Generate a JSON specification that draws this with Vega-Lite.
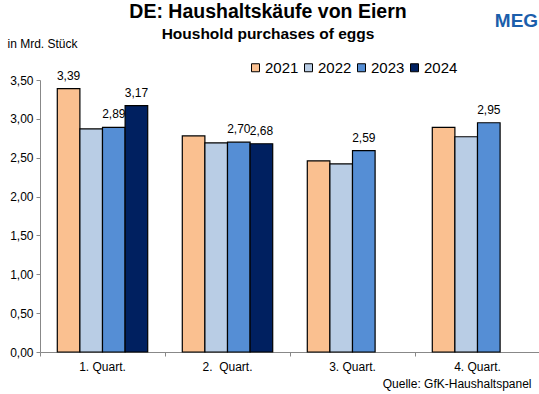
{
  "$schema": "https://vega.github.io/schema/vega-lite/v6.json",
  "width": 500,
  "height": 272,
  "autosize": {"type": "none"},
  "padding": {"left": 40, "top": 80, "right": 0, "bottom": 42},
  "background": "white",
  "title": {
    "text": "DE: Haushaltskäufe von Eiern",
    "subtitle": "Houshold purchases of eggs",
    "anchor": "middle",
    "frame": "group",
    "dx": -22,
    "offset": -32,
    "fontSize": 19.5,
    "subtitleFontSize": 15.5,
    "font": "Liberation Sans",
    "subtitleFont": "Liberation Sans",
    "fontWeight": "bold",
    "subtitleFontWeight": "bold",
    "color": "black",
    "subtitleColor": "black",
    "subtitlePadding": 4
  },
  "data": {
    "values": [
      {"quarter": "1. Quart.", "year": "2021", "value": 3.39},
      {"quarter": "1. Quart.", "year": "2022", "value": 2.87},
      {"quarter": "1. Quart.", "year": "2023", "value": 2.89},
      {"quarter": "1. Quart.", "year": "2024", "value": 3.17},
      {"quarter": "2.\u00a0 Quart.", "year": "2021", "value": 2.78},
      {"quarter": "2.\u00a0 Quart.", "year": "2022", "value": 2.69},
      {"quarter": "2.\u00a0 Quart.", "year": "2023", "value": 2.70},
      {"quarter": "2.\u00a0 Quart.", "year": "2024", "value": 2.68},
      {"quarter": "3. Quart.", "year": "2021", "value": 2.46},
      {"quarter": "3. Quart.", "year": "2022", "value": 2.42},
      {"quarter": "3. Quart.", "year": "2023", "value": 2.59},
      {"quarter": "4. Quart.", "year": "2021", "value": 2.89},
      {"quarter": "4. Quart.", "year": "2022", "value": 2.77},
      {"quarter": "4. Quart.", "year": "2023", "value": 2.95}
    ]
  },
  "resolve": {"axis": {"x": "independent"}},
  "encoding": {
    "xOffset": {
      "field": "year", "type": "nominal",
      "scale": {"paddingInner": 0, "paddingOuter": 0.765}
    },
    "y": {
      "field": "value", "type": "quantitative",
      "scale": {"domain": [0, 3.5], "nice": false},
      "axis": {
        "values": [0, 0.5, 1, 1.5, 2, 2.5, 3, 3.5],
        "labelOverlap": false,
        "format": ".2f",
        "grid": false,
        "tickSize": 4,
        "labelPadding": 3,
        "labelFontSize": 12,
        "labelFont": "Liberation Sans",
        "labelColor": "black",
        "domainColor": "#888888",
        "tickColor": "#888888",
        "title": "in Mrd. Stück",
        "titleFont": "Liberation Sans",
        "titleFontSize": 12,
        "titleFontWeight": "normal",
        "titleColor": "black",
        "titleAngle": 0,
        "titleAlign": "left",
        "titleAnchor": null,
        "titleBaseline": "alphabetic",
        "titleX": -33,
        "titleY": -33
      }
    }
  },
  "layer": [
    {
      "mark": {"type": "bar", "stroke": "black", "strokeWidth": 1.2},
      "encoding": {
        "x": {
          "field": "quarter", "type": "nominal", "sort": null,
          "scale": {"paddingInner": 0, "paddingOuter": 0},
          "axis": {
            "orient": "bottom",
            "labelAngle": 0,
            "bandPosition": 0,
            "tickSize": 4,
            "labelPadding": 5,
            "labelFontSize": 12,
            "labelFont": "Liberation Sans",
            "labelColor": "black",
            "domainColor": "#888888",
            "tickColor": "#888888",
            "title": "Quelle: GfK-Haushaltspanel",
            "titleFont": "Liberation Sans",
            "titleFontSize": 12,
            "titleFontWeight": "normal",
            "titleColor": "black",
            "titleAlign": "right",
            "titleAnchor": null,
            "titleBaseline": "alphabetic",
            "titleX": 491,
            "titleY": 35
          }
        },
        "color": {
          "field": "year", "type": "nominal",
          "scale": {"domain": ["2021", "2022", "2023", "2024"], "range": ["#FAC090", "#B9CDE5", "#558ED5", "#002060"]},
          "legend": {
            "orient": "none",
            "direction": "horizontal",
            "columns": 4,
            "legendX": 208,
            "legendY": -20,
            "title": null,
            "symbolType": "square",
            "symbolSize": 64,
            "symbolStrokeColor": "black",
            "symbolStrokeWidth": 1,
            "labelFontSize": 15,
            "labelFont": "Liberation Sans",
            "labelColor": "black",
            "labelOffset": 2,
            "columnPadding": 2,
            "padding": 0
          }
        }
      }
    },
    {
      "transform": [{"filter": "datum.year == '2023' || datum.year == '2024' || (datum.year == '2021' && datum.quarter == '1. Quart.')"}],
      "mark": {"type": "text", "baseline": "alphabetic", "dy": -9, "fontSize": 12, "font": "Liberation Sans", "color": "black"},
      "encoding": {
        "x": {
          "field": "quarter", "type": "nominal", "sort": null,
          "axis": {
            "orient": "top",
            "labels": false,
            "ticks": false,
            "domain": false,
            "title": "MEG",
            "titleFont": "Liberation Sans",
            "titleFontSize": 19,
            "titleFontWeight": "bold",
            "titleColor": "#1B5EAB",
            "titleAlign": "center",
            "titleAnchor": null,
            "titleBaseline": "alphabetic",
            "titleX": 476,
            "titleY": -54
          }
        },
        "text": {"field": "value", "type": "quantitative", "format": ".2f"}
      }
    }
  ],
  "config": {
    "view": {"stroke": null},
    "locale": {"number": {"decimal": ",", "thousands": ".", "grouping": [3], "currency": ["", " €"]}}
  }
}
